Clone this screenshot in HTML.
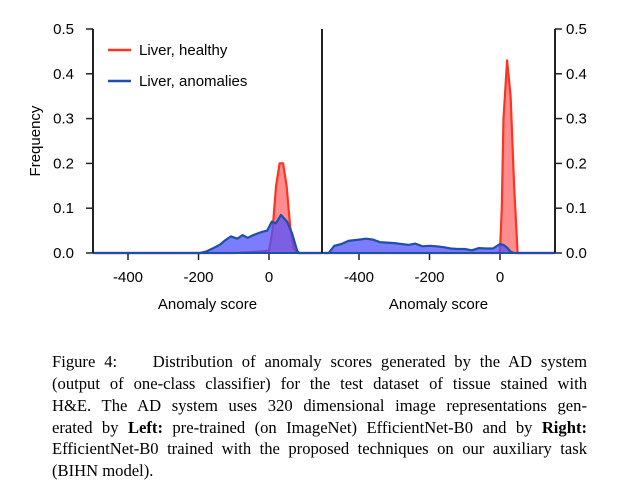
<!DOCTYPE html>
<html><head><meta charset="utf-8"><style>
body{margin:0;background:#fff;width:624px;height:504px;overflow:hidden;position:relative}
svg{position:absolute;left:0;top:0}
.cap{position:absolute;left:52px;width:535px;font-family:"Liberation Serif",serif;font-size:16.6px;color:#000}
.ln{position:absolute;left:0;width:535px;white-space:nowrap;text-align:justify;text-align-last:justify;height:20px;line-height:20px}
</style></head><body>
<svg id="chart" width="624" height="340" font-family="Liberation Sans, sans-serif"></svg>
<div class="cap">
<div class="ln" style="top:352px">Figure 4:&nbsp;&nbsp;&nbsp; Distribution of anomaly scores generated by the AD system</div>
<div class="ln" style="top:374px">(output of one-class classifier) for the test dataset of tissue stained with</div>
<div class="ln" style="top:396px">H&amp;E. The AD system uses 320 dimensional image representations gen-</div>
<div class="ln" style="top:418px">erated by <b>Left:</b> pre-trained (on ImageNet) EfficientNet-B0 and by <b>Right:</b></div>
<div class="ln" style="top:439px">EfficientNet-B0 trained with the proposed techniques on our auxiliary task</div>
<div class="ln" style="top:461px;text-align-last:left">(BIHN model).</div>
</div>
<script>
const leftHealthyX=[-500,-100,-50,0,10,20,30,40,50,60,70,80,150];
const leftHealthyY=[0,0,0.002,0.005,0.05,0.15,0.2,0.2,0.15,0.06,0.01,0,0];
const leftAnomX=[-500,-196,-180,-160,-140,-125,-108,-90,-75,-60,-45,-20,-5,8,19,34,51,65,80,85,150];
const leftAnomY=[0,0,0.003,0.01,0.018,0.028,0.037,0.032,0.04,0.034,0.04,0.047,0.05,0.07,0.066,0.085,0.07,0.045,0.005,0,0];
const rightHealthyX=[-500,-5,0,5,10,20,30,40,50,155];
const rightHealthyY=[0,0,0.005,0.1,0.3,0.43,0.35,0.15,0,0];
const rightAnomX=[-500,-486,-470,-450,-430,-400,-380,-360,-340,-300,-280,-260,-240,-220,-200,-180,-160,-140,-120,-100,-80,-60,-40,-20,0,10,20,30,40,155];
const rightAnomY=[0,0,0.016,0.02,0.027,0.03,0.032,0.03,0.024,0.022,0.02,0.018,0.021,0.015,0.016,0.015,0.013,0.01,0.009,0.009,0.006,0.011,0.01,0.01,0.02,0.018,0.012,0.003,0,0];
const yTicks=[0,0.1,0.2,0.3,0.4,0.5];
const yTickLabels=["0.0","0.1","0.2","0.3","0.4","0.5"];
const xTicks=[-400,-200,0];
const xTickLabels=["-400","-200","0"];
const svg=document.getElementById('chart');
const NS='http://www.w3.org/2000/svg';
function mk(t,a,p){const e=document.createElementNS(NS,t);for(const k in a)e.setAttribute(k,a[k]);(p||svg).appendChild(e);return e;}
const Y0=253,YS=448;
const yS=v=>Y0-v*YS;
const panels=[{x0:93,x1:322,zero:269,hx:leftHealthyX,hy:leftHealthyY,ax:leftAnomX,ay:leftAnomY,name:'left'},
{x0:322,x1:555,zero:500,hx:rightHealthyX,hy:rightHealthyY,ax:rightAnomX,ay:rightAnomY,name:'right'}];
const XS=0.3525;
panels.forEach(p=>{
  const xS=v=>Math.max(p.x0,Math.min(p.x1,p.zero+v*XS));
  const g=mk('g',{});
  
  
  const cp=mk('clipPath',{id:'c'+p.name},g);mk('rect',{x:p.x0,y:20,width:p.x1-p.x0,height:240},cp);
  const dg=mk('g',{'clip-path':'url(#c'+p.name+')'},g);
  function area(xs,ys,fill,stroke,nm){
    let d='M'+xS(xs[0])+','+Y0;
    xs.forEach((x,i)=>{d+=' L'+xS(x).toFixed(1)+','+yS(ys[i]).toFixed(1);});
    d+=' L'+xS(xs[xs.length-1])+','+Y0+'Z';
    const f=mk('path',{d:d,fill:fill,stroke:'none'},dg);
    
    
    let l='';xs.forEach((x,i)=>{l+=(i?' L':'M')+xS(x).toFixed(1)+','+yS(ys[i]).toFixed(1);});
    const s=mk('path',{d:l,fill:'none',stroke:stroke,'stroke-width':2.2,'stroke-linejoin':'round'},dg);
    
    
  }
  area(p.hx,p.hy,'rgba(255,80,80,0.65)','#ff3322',p.name+'-healthy');
  area(p.ax,p.ay,'rgba(80,80,255,0.75)','#1f4fa8',p.name+'-anomalies');
  xTicks.forEach((t,i)=>{
    const x=p.zero+t*XS;
    mk('line',{x1:x,x2:x,y1:253,y2:260,stroke:'#222','stroke-width':1.5},g);
    const tx=mk('text',{x:x,y:282,'text-anchor':'middle','font-size':15,fill:'#000'},g);
    tx.textContent=xTickLabels[i];
    
    
  });
  const xt=mk('text',{x:(p.x0+p.x1)/2,y:309,'text-anchor':'middle','font-size':15,fill:'#000'},g);
  xt.textContent='Anomaly score';
  
  
  mk('line',{x1:p.x0,x2:p.x1,y1:253,y2:253,stroke:'#1f4fa8','stroke-width':2},g);
});
mk('line',{x1:93,x2:93,y1:29,y2:253,stroke:'#222','stroke-width':2});
mk('line',{x1:322,x2:322,y1:29,y2:253,stroke:'#222','stroke-width':2});
mk('line',{x1:555,x2:555,y1:29,y2:253,stroke:'#222','stroke-width':2});
yTicks.forEach((t,i)=>{
  const y=yS(t);
  mk('line',{x1:86,x2:93,y1:y,y2:y,stroke:'#222','stroke-width':1.5});
  mk('line',{x1:555,x2:562,y1:y,y2:y,stroke:'#222','stroke-width':1.5});
  const a=mk('text',{x:74,y:y+5,'text-anchor':'end','font-size':15,fill:'#000'});
  a.textContent=yTickLabels[i];
  
  
  const b=mk('text',{x:566,y:y+5,'text-anchor':'start','font-size':15,fill:'#000'});
  b.textContent=yTickLabels[i];
  
  
});
const yl=mk('text',{x:0,y:0,transform:'translate(40,141) rotate(-90)','text-anchor':'middle','font-size':15,fill:'#000'});
yl.textContent='Frequency';


[['Liver, healthy','#ff3322',50],['Liver, anomalies','#1f4fa8',81]].forEach(e=>{
  const g=mk('g',{});
  
  
  mk('line',{x1:108,x2:131,y1:e[2],y2:e[2],stroke:e[1],'stroke-width':2.5},g);
  const t=mk('text',{x:139,y:e[2]+5,'font-size':15,fill:'#000'},g);t.textContent=e[0];
});
</script>
</body></html>
